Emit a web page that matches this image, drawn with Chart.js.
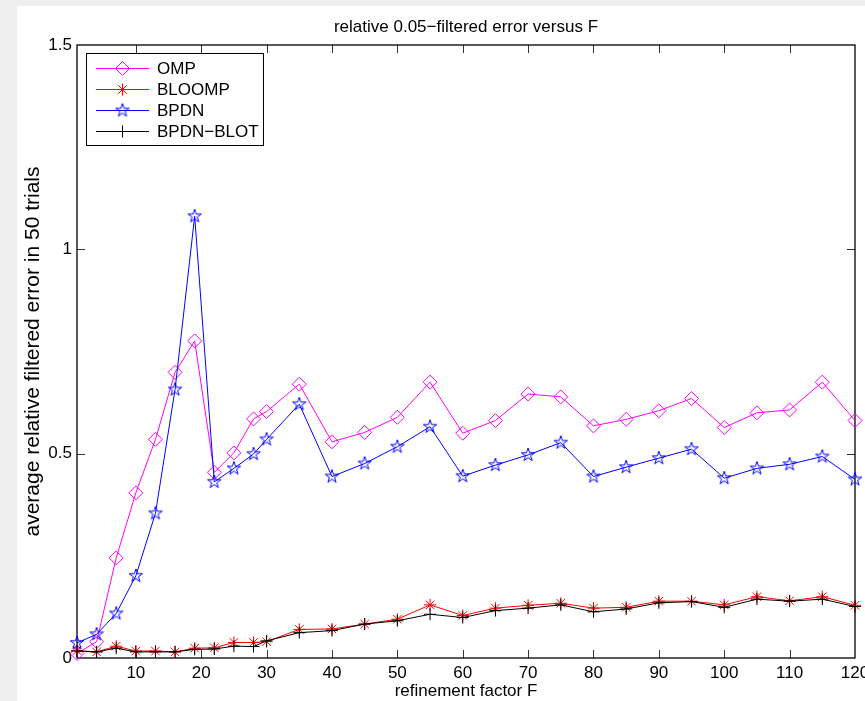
<!DOCTYPE html>
<html>
<head>
<meta charset="utf-8">
<script src="https://cdn.jsdelivr.net/npm/chart.js@4.4.1/dist/chart.umd.min.js"></script>
<style>
  html, body { margin: 0; padding: 0; width: 865px; height: 701px; overflow: hidden; background: #efefef; }
  #fig { position: absolute; left: 17px; top: 6px; width: 860px; height: 695px; background: #ffffff; }
  canvas { display: block; }
</style>
</head>
<body>
<div id="fig"><canvas id="c" width="860" height="695"></canvas></div>
<script>
// Refinement factors F at which the error was averaged
const refinementF = [1, 4, 7, 10, 13, 16, 19, 22, 25, 28, 30, 35, 40, 45, 50, 55, 60, 65, 70, 75, 80, 85, 90, 95, 100, 105, 110, 115, 120];

// Average relative 0.05-filtered error in 50 trials, per method
const ompErr      = [0.011, 0.040, 0.245, 0.404, 0.535, 0.699, 0.776, 0.454, 0.502, 0.585, 0.603, 0.670, 0.529, 0.552, 0.589, 0.675, 0.550, 0.581, 0.646, 0.639, 0.568, 0.584, 0.605, 0.635, 0.564, 0.600, 0.607, 0.675, 0.581];
const bloompErr   = [0.018, 0.015, 0.029, 0.017, 0.017, 0.015, 0.024, 0.025, 0.038, 0.038, 0.040, 0.070, 0.071, 0.083, 0.095, 0.130, 0.104, 0.122, 0.129, 0.134, 0.122, 0.124, 0.139, 0.139, 0.130, 0.150, 0.140, 0.150, 0.129];
const bpdnErr     = [0.037, 0.058, 0.109, 0.201, 0.354, 0.657, 1.081, 0.431, 0.464, 0.499, 0.535, 0.621, 0.444, 0.476, 0.517, 0.566, 0.445, 0.472, 0.497, 0.527, 0.444, 0.467, 0.489, 0.511, 0.440, 0.464, 0.474, 0.493, 0.437];
const bpdnBlotErr = [0.017, 0.015, 0.024, 0.015, 0.015, 0.015, 0.021, 0.022, 0.029, 0.028, 0.042, 0.062, 0.067, 0.083, 0.091, 0.107, 0.099, 0.116, 0.122, 0.130, 0.113, 0.120, 0.135, 0.138, 0.124, 0.144, 0.139, 0.144, 0.126];

// Axis ticks
const xTickValues = [10, 20, 30, 40, 50, 60, 70, 80, 90, 100, 110, 120];
const yTickValues = [0, 0.5, 1, 1.5];

const FONT_FAMILY = '"Liberation Sans", Arial, Helvetica, sans-serif';
const FONT_SIZE = 17;

// Five-pointed star outline used as a marker image
function pentagramMarker(color, r) {
  const s = 2 * Math.ceil(r + 2);
  const cv = document.createElement('canvas');
  cv.width = s; cv.height = s;
  const g = cv.getContext('2d');
  g.translate(s / 2, s / 2);
  g.beginPath();
  const ri = r * 0.382;
  for (let i = 0; i < 10; i++) {
    const a = -Math.PI / 2 + i * Math.PI / 5;
    const rr = (i % 2) ? ri : r;
    g.lineTo(rr * Math.cos(a), rr * Math.sin(a));
  }
  g.closePath();
  g.strokeStyle = color;
  g.lineWidth = 1;
  g.stroke();
  return cv;
}

const toPoints = ys => refinementF.map((f, i) => ({ x: f, y: ys[i] }));

const seriesStyle = (label, ys, color, pointStyle, radius, order) => ({
  label,
  data: toPoints(ys),
  borderColor: color,
  backgroundColor: 'rgba(0,0,0,0)',
  pointBackgroundColor: 'rgba(0,0,0,0)',
  pointBorderColor: color,
  pointStyle,
  pointRadius: radius,
  pointHoverRadius: radius,
  pointBorderWidth: 1,
  borderWidth: 1,
  tension: 0,
  clip: false,
  order
});

const datasets = [
  seriesStyle('OMP', ompErr, '#ff00ff', 'rectRot', 7, 4),
  seriesStyle('BLOOMP', bloompErr, '#ff0000', 'star', 6, 3),
  seriesStyle('BPDN', bpdnErr, '#0000ff', pentagramMarker('#0000ff', 7), 7, 2),
  seriesStyle('BPDN\u2212BLOT', bpdnBlotErr, '#000000', 'cross', 6, 1)
];

const TITLE = 'relative 0.05\u2212filtered error versus F';

function markerAt(ctx, ds, x, y) {
  ctx.save();
  ctx.strokeStyle = ds.pointBorderColor;
  ctx.fillStyle = 'rgba(0,0,0,0)';
  ctx.lineWidth = ds.pointBorderWidth;
  Chart.helpers.drawPoint(ctx, { pointStyle: ds.pointStyle, rotation: 0, radius: ds.pointRadius, borderWidth: ds.pointBorderWidth }, x, y);
  ctx.restore();
}

// Box frame with inward tick marks, title and boxed legend
const frameAndLegend = {
  id: 'frameAndLegend',
  beforeDatasetsDraw(chart) {
    const { ctx, chartArea: a, scales } = chart;
    ctx.save();
    ctx.strokeStyle = '#333333';
    ctx.lineWidth = 1;
    const tl = 8;
    ctx.beginPath();
    xTickValues.forEach(v => {
      const px = Math.round(scales.x.getPixelForValue(v)) + 0.5;
      if (v > scales.x.min && v < scales.x.max) {
        ctx.moveTo(px, a.bottom); ctx.lineTo(px, a.bottom - tl);
        ctx.moveTo(px, a.top); ctx.lineTo(px, a.top + tl);
      }
    });
    yTickValues.forEach(v => {
      const py = Math.round(scales.y.getPixelForValue(v)) + 0.5;
      if (v > scales.y.min && v < scales.y.max) {
        ctx.moveTo(a.left, py); ctx.lineTo(a.left + tl, py);
        ctx.moveTo(a.right, py); ctx.lineTo(a.right - tl, py);
      }
    });
    ctx.stroke();
    ctx.strokeStyle = '#000000';
    ctx.lineWidth = 1.3;
    ctx.strokeRect(a.left, a.top, a.right - a.left, a.bottom - a.top);
    ctx.restore();
  },
  afterDraw(chart) {
    const { ctx, chartArea: a } = chart;
    ctx.save();
    ctx.font = FONT_SIZE + 'px ' + FONT_FAMILY;
    ctx.fillStyle = '#000000';
    ctx.textAlign = 'center';
    ctx.textBaseline = 'alphabetic';
    ctx.fillText(TITLE, (a.left + a.right) / 2, 26);

    // legend
    const lx = a.left + 9, ly = a.top + 8, lw = 177, lh = 92;
    ctx.fillStyle = '#ffffff';
    ctx.fillRect(lx, ly, lw, lh);
    ctx.strokeStyle = '#000000';
    ctx.lineWidth = 1;
    ctx.strokeRect(lx + 0.5, ly + 0.5, lw, lh);
    ctx.textAlign = 'left';
    ctx.textBaseline = 'middle';
    chart.data.datasets.forEach((ds, i) => {
      const y = ly + 15.5 + i * 21;
      ctx.strokeStyle = ds.borderColor;
      ctx.lineWidth = 1;
      ctx.beginPath();
      ctx.moveTo(lx + 10, y); ctx.lineTo(lx + 63, y);
      ctx.stroke();
      markerAt(ctx, ds, lx + 36.5, y);
      ctx.fillStyle = '#000000';
      ctx.fillText(ds.label, lx + 71, y + 1);
    });
    ctx.restore();
  }
};

const tickFont = { family: FONT_FAMILY, size: FONT_SIZE };

new Chart(document.getElementById('c'), {
  type: 'line',
  data: { datasets },
  options: {
    responsive: false,
    animation: false,
    events: [],
    layout: { padding: { top: 39, right: 22, left: 0, bottom: 0 } },
    plugins: { legend: { display: false }, tooltip: { enabled: false }, title: { display: false } },
    scales: {
      x: {
        type: 'linear', position: 'bottom', min: 1, max: 120,
        afterBuildTicks: s => { s.ticks = xTickValues.map(v => ({ value: v })); },
        afterFit: s => { s.height = 43; s.paddingLeft = 0; s.paddingRight = 0; },
        grid: { display: false, drawTicks: false },
        border: { display: false },
        ticks: { padding: 5, color: '#000000', font: tickFont, maxRotation: 0, autoSkip: false, callback: v => String(v) },
        title: { display: true, text: 'refinement factor F', color: '#000000', font: { family: FONT_FAMILY, size: FONT_SIZE, lineHeight: 1 }, padding: { top: 0, bottom: 1 } }
      },
      y: {
        type: 'linear', position: 'left', min: 0, max: 1.5,
        afterBuildTicks: s => { s.ticks = yTickValues.map(v => ({ value: v })); },
        afterFit: s => { s.width = 60; s.paddingTop = 0; s.paddingBottom = 0; },
        grid: { display: false, drawTicks: false },
        border: { display: false },
        ticks: { padding: 5, color: '#000000', font: tickFont, autoSkip: false, callback: v => String(v) },
        title: { display: true, text: 'average relative filtered error in 50 trials', color: '#000000', font: { family: FONT_FAMILY, size: 21, lineHeight: 1 }, padding: { top: 6, bottom: 0 } }
      }
    }
  },
  plugins: [frameAndLegend]
});
</script>
</body>
</html>
